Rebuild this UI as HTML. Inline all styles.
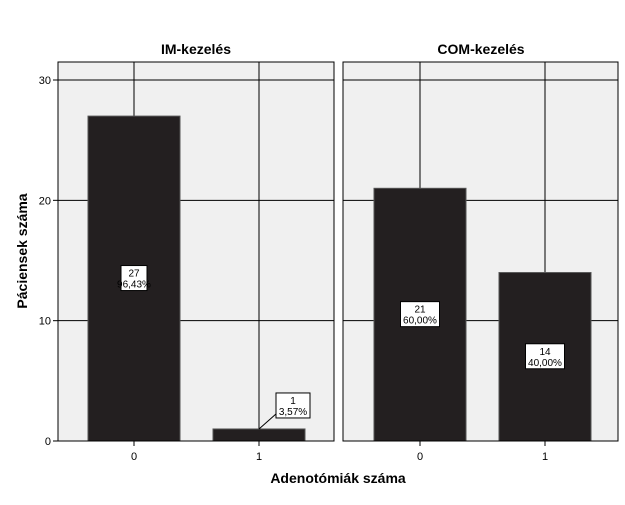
<!DOCTYPE html>
<html><head><meta charset="utf-8"><style>
body{margin:0;background:#fff}
svg text{font-family:"Liberation Sans",Arial,sans-serif}
</style></head><body>
<svg width="625" height="500" id="c">
<text x="196" y="54" font-size="14" font-weight="bold" text-anchor="middle">IM-kezelés</text>
<text x="481" y="54" font-size="14" font-weight="bold" text-anchor="middle">COM-kezelés</text>
<text x="338" y="483" font-size="14" font-weight="bold" text-anchor="middle">Adenotómiák száma</text>
<text transform="translate(27,251) rotate(-90)" font-size="14" font-weight="bold" text-anchor="middle">Páciensek száma</text>
<g id="g"></g>
</svg>
<script>
const categories=["0","1"];
const panels=["IM-kezelés","COM-kezelés"];
const imValues=[27,1];
const comValues=[21,14];
const imPct=["96,43%","3,57%"];
const comPct=["60,00%","40,00%"];
const yTicks=[0,10,20,30];
const ns="http://www.w3.org/2000/svg";
const g=document.getElementById('g');
function el(t,a,p){const e=document.createElementNS(ns,t);for(const k in a)e.setAttribute(k,a[k]);(p||g).appendChild(e);return e;}
const y0=441,yScale=(441-80)/30;
function y(v){return y0-v*yScale;}
const panelX=[[58,334],[343,618]];
const catX=[134,259];
// y axis ticks
yTicks.forEach(t=>{
 const l=el('line',{x1:53,x2:58,y1:y(t),y2:y(t),stroke:'#000'});
 
 
 const tx=el('text',{x:51,y:y(t)+4,'font-size':11,'text-anchor':'end'});
 tx.textContent=t;
 
 
});
[imValues,comValues].forEach((vals,pi)=>{
 const [x0,x1]=panelX[pi];
 const off=x0-58+(pi?1:0);
 const r=el('rect',{x:x0,y:62,width:x1-x0,height:441-62,fill:'#f0f0f0',stroke:'none'});
 
 
 yTicks.forEach(t=>{if(t>0){const l=el('line',{x1:x0,x2:x1,y1:y(t),y2:y(t),stroke:'#000','stroke-width':1});
  
  }});
 categories.forEach((c,ci)=>{
  const cx=catX[ci]+off;
  const l=el('line',{x1:cx,x2:cx,y1:62,y2:446,stroke:'#000'});
  
  
  const tx=el('text',{x:cx,y:460,'font-size':11,'text-anchor':'middle'});
  tx.textContent=c;
  
  
 });
 categories.forEach((c,ci)=>{
  const cx=catX[ci]+off,v=vals[ci];
  const b=el('rect',{x:cx-46,y:y(v),width:92,height:y0-y(v),fill:'#231f20',stroke:'#555','stroke-width':1});
  
  
  const pct=(pi?comPct:imPct)[ci];
  let bx,by;
  if(y0-y(v)<50){bx=cx+34;by=y(v)-36;
   const ll=el('line',{x1:cx,y1:y(v),x2:bx-8,y2:by+13,stroke:'#000'});
   
   }
  else{bx=cx;by=(y(v)+y0)/2-13;}
  const w=pi?39:(ci?34:26);
  const lb=el('rect',{x:bx-w/2,y:by,width:w,height:25,fill:'#fff',stroke:'#000'});
  
  
  const t1=el('text',{x:bx,y:by+11,'font-size':10,'text-anchor':'middle'});
  t1.textContent=v;
  
  
  const t2=el('text',{x:bx,y:by+22,'font-size':10,'text-anchor':'middle'});
  t2.textContent=pct;
  
  
 });
 const f=el('rect',{x:x0,y:62,width:x1-x0,height:441-62,fill:'none',stroke:'#000'});
 
 
});
</script>
</body></html>
